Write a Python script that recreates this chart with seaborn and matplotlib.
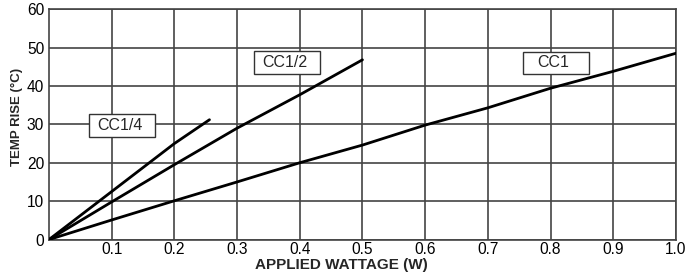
import matplotlib
matplotlib.use('Agg')
import matplotlib.pyplot as plt
from matplotlib.patches import Rectangle
import pandas as pd
import seaborn as sns

######### CHART DATA #########

# CC1/4 curve
watts_q = [0, 0.1, 0.2, 0.256]
temp_q = [0, 12.5, 25.0, 31.2]

# CC1/2 curve
watts_h = [0, 0.1, 0.2, 0.3, 0.4, 0.5]
temp_h = [0, 9.8, 19.5, 29.0, 37.7, 46.8]

# CC1 curve
watts_1 = [0, 0.1, 0.2, 0.3, 0.4, 0.5, 0.6, 0.7, 0.8, 0.9, 1.0]
temp_1 = [0, 5.1, 10.1, 15.0, 20.0, 24.6, 29.8, 34.3, 39.4, 43.8, 48.5]

curve_names = ['CC1/4', 'CC1/2', 'CC1']
# label box centres (W, degC)
label_pos = [(0.117, 29.7), (0.380, 46.1), (0.809, 46.0)]

x_ticks = [0.1, 0.2, 0.3, 0.4, 0.5, 0.6, 0.7, 0.8, 0.9, 1.0]
x_ticklabels = ['0.1', '0.2', '0.3', '0.4', '0.5', '0.6', '0.7', '0.8', '0.9', '1.0']
y_ticks = [0, 10, 20, 30, 40, 50, 60]

######### PLOT #########

sns.set_style('white')
plt.rcParams['font.family'] = ['Liberation Sans', 'DejaVu Sans']

df = pd.concat([
    pd.DataFrame({'watts': watts_q, 'temp': temp_q, 'curve': 'CC1/4'}),
    pd.DataFrame({'watts': watts_h, 'temp': temp_h, 'curve': 'CC1/2'}),
    pd.DataFrame({'watts': watts_1, 'temp': temp_1, 'curve': 'CC1'}),
])

fig = plt.figure(figsize=(6.89, 2.76), dpi=100)
ax = fig.add_axes([0.0711, 0.132, 0.9099, 0.835])

grid_col = '#444444'
for xv in x_ticks:
    ax.axvline(xv, color=grid_col, lw=1.2, zorder=1)
for yv in y_ticks:
    ax.axhline(yv, color=grid_col, lw=1.2, zorder=1)

sns.lineplot(data=df, x='watts', y='temp', units='curve', estimator=None,
             color='black', lw=2.0, ax=ax, sort=False, zorder=3)

ax.set_xlim(0, 1.0)
ax.set_ylim(0, 60)
ax.set_xticks(x_ticks)
ax.set_xticklabels(x_ticklabels)
ax.set_yticks(y_ticks)
ax.tick_params(length=0, labelsize=11.2, colors='black')
ax.tick_params(axis='x', pad=2)
ax.tick_params(axis='y', pad=3.5)
for s in ax.spines.values():
    s.set_color(grid_col)
    s.set_linewidth(1.2)

# label boxes
box_w, box_h = 0.105, 5.9
for name, (bx, by) in zip(curve_names, label_pos):
    ax.add_patch(Rectangle((bx - box_w / 2, by - box_h / 2), box_w, box_h,
                           facecolor='white', edgecolor='#333333', lw=1.0, zorder=4))
    ax.text(bx - 0.004, by, name, ha='center', va='center', fontsize=11.5, zorder=5)

ax.set_xlabel('APPLIED WATTAGE (W)', fontsize=11, fontweight='bold')
ax.set_ylabel('TEMP RISE (°C)', fontsize=9.5, fontweight='bold')
ax.xaxis.set_label_coords(0.467, -0.078)
ax.yaxis.set_label_coords(-0.042, 0.53)

fig.savefig('out.png', dpi=100)
